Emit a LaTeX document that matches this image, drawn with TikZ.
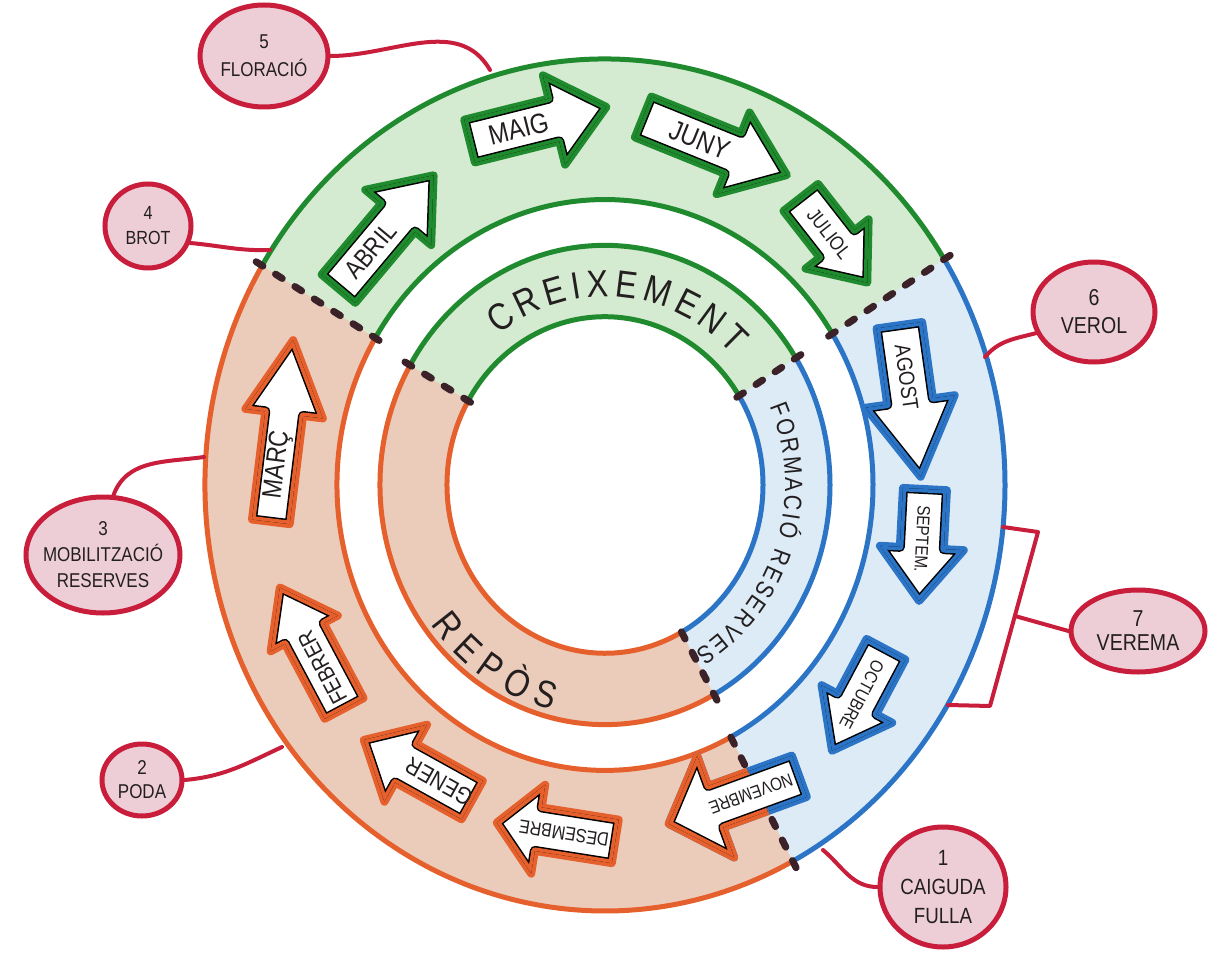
\documentclass[tikz,border=0pt]{standalone}
\usepackage{fontspec}
\setmainfont{Liberation Sans}[FakeStretch=0.85]
\usetikzlibrary{shapes.geometric,decorations.text}
\definecolor{grn}{HTML}{1F8A2E}
\definecolor{grnfill}{HTML}{D5EBD1}
\definecolor{blu}{HTML}{2B74C6}
\definecolor{blufill}{HTML}{DDEBF7}
\definecolor{org}{HTML}{E5602C}
\definecolor{orgfill}{HTML}{EBCCBB}
\definecolor{redb}{HTML}{C81E3C}
\definecolor{pinkf}{HTML}{EDCED6}
\definecolor{dashc}{HTML}{3A2228}
\definecolor{txt}{HTML}{231F20}

\pgfkeys{/arr/.is family,/arr/hl/.store in=\arrHL,/arr/hw/.store in=\arrHW,/arr/sw/.store in=\arrSW}

\newcommand{\ArrowShape}[6][]{%
  \pgfkeys{/arr/.cd,hl=48,hw=44,sw=22,#1}%
  \begin{scope}[shift={(#2,-#3)},rotate=#4]
    \path[save path=\arrowp] ({-(#5)/2},{-\arrSW}) -- ({(#5)/2-\arrHL},{-\arrSW}) -- ({(#5)/2-\arrHL},{-\arrHW}) -- ({(#5)/2},0) -- ({(#5)/2-\arrHL},{\arrHW}) -- ({(#5)/2-\arrHL},{\arrSW}) -- ({-(#5)/2},{\arrSW}) -- cycle;
    \path[use path=\arrowp,fill=white,draw=#6,line width=8pt,line join=round];
    \begin{scope}
      \path[use path=\arrowp,clip];
      \path[use path=\arrowp,draw=black,line width=10pt,line join=round];
      \path[use path=\arrowp,draw=#6,line width=7pt,line join=round];
    \end{scope}
  \end{scope}}

\newcommand{\ArrowText}[7]{%
  \begin{scope}[shift={(#2,-#3)},rotate=#4]
    \node[rotate=#4,font=\fontsize{#5}{#5}\selectfont,text=txt,inner sep=0pt] (#1) at (#7,0) {#6};
  \end{scope}}

\begin{document}
\begin{tikzpicture}[x=1pt,y=1pt,
  ring/.style={line width=5pt},
  dsh/.style={draw=dashc,line width=7pt,dash pattern=on 8pt off 15pt,line cap=round},
  oval/.style={ellipse,draw=redb,fill=pinkf,line width=5pt,inner sep=0pt},
  ovtxt/.style={align=center,text=txt,inner sep=0pt},
  conn/.style={draw=redb,line width=4pt,line cap=round,line join=round}]
\useasboundingbox (0,0) rectangle (1208,-955);
\fill[white] (0,0) rectangle (1208,-955);

\begin{scope}[shift={(605,-485)},yscale=1.065]
  % ring fills
  \fill[grnfill] (32:400) arc[start angle=32,end angle=149,radius=400] -- (149:268) arc[start angle=149,end angle=32,radius=268] -- cycle;
  \fill[blufill] (-62:400) arc[start angle=-62,end angle=32,radius=400] -- (32:268) arc[start angle=32,end angle=-62,radius=268] -- cycle;
  \fill[orgfill] (149:400) arc[start angle=149,end angle=298,radius=400] -- (298:268) arc[start angle=298,end angle=149,radius=268] -- cycle;
  \fill[grnfill] (32:225) arc[start angle=32,end angle=150,radius=225] -- (150:158) arc[start angle=150,end angle=32,radius=158] -- cycle;
  \fill[blufill] (-61:225) arc[start angle=-61,end angle=32,radius=225] -- (32:158) arc[start angle=32,end angle=-61,radius=158] -- cycle;
  \fill[orgfill] (150:225) arc[start angle=150,end angle=299,radius=225] -- (299:158) arc[start angle=299,end angle=150,radius=158] -- cycle;
  % ring borders
  \draw[ring,grn] (32:400) arc[start angle=32,end angle=149,radius=400];
  \draw[ring,grn] (32:268) arc[start angle=32,end angle=149,radius=268];
  \draw[ring,blu] (-62:400) arc[start angle=-62,end angle=32,radius=400];
  \draw[ring,blu] (-62:268) arc[start angle=-62,end angle=32,radius=268];
  \draw[ring,org] (149:400) arc[start angle=149,end angle=298,radius=400];
  \draw[ring,org] (149:268) arc[start angle=149,end angle=298,radius=268];
  \draw[ring,grn] (32:225) arc[start angle=32,end angle=150,radius=225];
  \draw[ring,grn] (32:158) arc[start angle=32,end angle=150,radius=158];
  \draw[ring,blu] (-61:225) arc[start angle=-61,end angle=32,radius=225];
  \draw[ring,blu] (-61:158) arc[start angle=-61,end angle=32,radius=158];
  \draw[ring,org] (150:225) arc[start angle=150,end angle=299,radius=225];
  \draw[ring,org] (150:158) arc[start angle=150,end angle=299,radius=158];
  % dashed boundaries
  \draw[dsh] (149:407) -- (149:262);
  \draw[dsh] (32:407) -- (32:262);
  \draw[dsh] (-62:407) -- (-62:262);
  \draw[dsh] (150:231) -- (150:152);
  \draw[dsh] (32:231) -- (32:152);
  \draw[dsh] (-61:231) -- (-61:152);
  % phase names
  \path[decorate,decoration={text along path,text align={fit to path},text color=txt,
      text={|\fontsize{38}{38}\selectfont|CREIXEMENT}}]
      (127:177) arc[start angle=127,end angle=44,radius=177];
  \path[decorate,decoration={text along path,text align={fit to path},text color=txt,
      text={|\fontsize{25}{25}\selectfont|FORMACIÓ RESERVES}}]
      (24:180) arc[start angle=24,end angle=-60,radius=180];
  \path[decorate,decoration={text along path,text align={fit to path},text color=txt,
      text={|\fontsize{38}{38}\selectfont|REPÒS}}]
      (-143:218) arc[start angle=-143,end angle=-104,radius=218];
\end{scope}

% month arrows
\ArrowShape[hl=55,hw=43]{386}{232}{50}{148}{grn}
\ArrowText{abril}{386}{232}{50}{26}{ABRIL}{-24}
\ArrowShape[hl=54,hw=46]{538}{124}{14}{141}{grn}
\ArrowText{maig}{538}{124}{14}{28}{MAIG}{-20}
\ArrowShape[hl=58,hw=44]{715}{146}{-22}{155}{grn}
\ArrowText{juny}{715}{146}{-22}{28}{JUNY}{-16}
\ArrowShape[hl=49,hw=40]{834}{240}{-52}{108}{grn}
\ArrowText{juliol}{834}{240}{-52}{20}{JULIOL}{-8}
\ArrowShape[hl=76,hw=45,sw=23]{910}{401}{-82}{153}{blu}
\ArrowText{agost}{910}{401}{-82}{22}{AGOST}{-24}
\ArrowShape[hl=53,hw=42]{922}{545}{-93}{112}{blu}
\ArrowText{septem}{922}{545}{-93}{18}{SEPTEM.}{-6}
\ArrowShape[hl=53,hw=40]{859}{700}{-118}{115}{blu}
\ArrowText{octubre}{859}{700}{-118}{18}{OCTUBRE}{-6}
\ArrowShape[hl=50,hw=54]{734}{800}{-160}{139}{blu}
\begin{scope}
  \clip (605,-485) -- (1074,-1425) -- (-500,-1425) -- (-500,-485) -- cycle;
  \ArrowShape[hl=50,hw=54]{734}{800}{-160}{139}{org}
\end{scope}
\ArrowText{novembre}{734}{800}{-160}{18}{NOVEMBRE}{-18}
\ArrowShape[hl=42,hw=45]{556}{832}{171}{120}{org}
\ArrowText{desembre}{556}{832}{171}{19}{DESEMBRE}{-8}
\ArrowShape[hl=48,hw=44]{418}{770}{151}{124}{org}
\ArrowText{gener}{418}{770}{151}{24}{GENER}{-24}
\ArrowShape[hl=52,hw=38]{312}{648}{118}{137}{org}
\ArrowText{febrer}{312}{648}{118}{23}{FEBRER}{-22}
\ArrowShape[hl=74,hw=39,sw=19]{282}{431}{83}{183}{org}
\ArrowText{marc}{282}{431}{83}{27}{MARÇ}{-34}

% connector anchor points on the ring
\coordinate (c5) at (490,-70);
\coordinate (c4) at (270,-250);
\coordinate (c3) at (204,-457);
\coordinate (c2) at (282,-747);
\coordinate (c6) at (985,-357);
\coordinate (c1) at (823,-850);
\coordinate (b1) at (1003,-527);
\coordinate (b2) at (1038,-532);
\coordinate (b3) at (990,-706);
\coordinate (b4) at (948,-705);
\coordinate (bm) at (1015,-616);

% stage ovals
\node[oval,minimum width=128pt,minimum height=102pt] (o5) at (264,-56) {};
\node[oval,minimum width=86pt,minimum height=84pt] (o4) at (148,-226) {};
\node[oval,minimum width=154pt,minimum height=116pt] (o3) at (103,-555) {};
\node[oval,minimum width=80pt,minimum height=72pt] (o2) at (142,-780) {};
\node[oval,minimum width=122pt,minimum height=100pt] (o6) at (1094,-312) {};
\node[oval,minimum width=134pt,minimum height=82pt] (o7) at (1138,-631) {};
\node[oval,minimum width=126pt,minimum height=120pt] (o1) at (943,-887) {};

\node[ovtxt,font=\fontsize{20}{28}\selectfont] (t5) at (o5) {5\\FLORACIÓ};
\node[ovtxt,font=\fontsize{19}{25}\selectfont] (t4) at (o4) {4\\BROT};
\node[ovtxt,font=\fontsize{20}{26}\selectfont] (t3) at (o3) {3\\MOBILITZACIÓ\\RESERVES};
\node[ovtxt,font=\fontsize{20}{24}\selectfont] (t2) at (o2) {2\\PODA};
\node[ovtxt,font=\fontsize{23}{28}\selectfont] (t6) at (o6) {6\\VEROL};
\node[ovtxt,font=\fontsize{23}{24}\selectfont] (t7) at (o7) {7\\VEREMA};
\node[ovtxt,font=\fontsize{22}{29}\selectfont] (t1) at (o1) {1\\CAIGUDA\\FULLA};

% connectors
\draw[conn] (o5.east) to[out=0,in=120] (c5);
\draw[conn] (o4.-22) to[out=-5,in=182] (c4);
\draw[conn] (o3.80) to[out=70,in=188] (c3);
\draw[conn] (o2.east) to[out=5,in=205] (c2);
\draw[conn] (o6.200) to[out=195,in=50] (c6);
\draw[conn] (c1) to[out=-40,in=180] (o1.west);
\draw[conn] (b1) -- (b2) -- (b3) -- (b4);
\draw[conn] (bm) -- (o7.west);
\end{tikzpicture}
\end{document}
